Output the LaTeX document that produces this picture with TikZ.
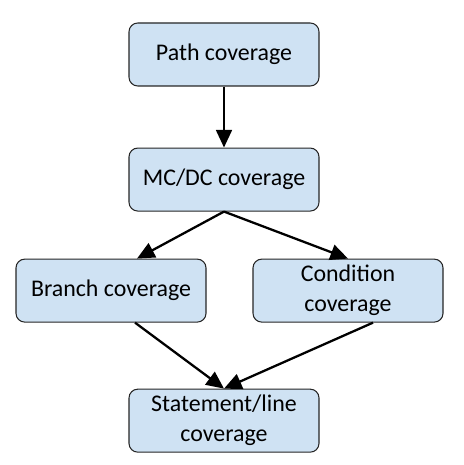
\documentclass[tikz,border=0pt]{standalone}
\usepackage{fontspec}
\setmainfont{Carlito}
\usepackage{xcolor}
\usetikzlibrary{arrows.meta,positioning,calc}

\definecolor{boxblue}{HTML}{CFE2F3}

\begin{document}
\begin{tikzpicture}[
  box/.style={draw=black!85, line width=0.6pt, rounded corners=5pt, fill=boxblue,
    minimum width=3.8cm, minimum height=1.26cm, inner sep=2pt,
    font=\fontsize{13.6}{17}\selectfont, align=center},
  arr/.style={-{Triangle[length=10pt,width=9pt]}, line width=1.3pt},
  node distance=1.22cm,
]
\useasboundingbox (0,0) rectangle (9.26,-9.30);

% Top chain
\node[box] (path) at (4.48,-1.09) {Path coverage};
\node[box, below=of path] (mcdc) {MC/DC coverage};

% Middle row
\node[box, below=0.94cm of mcdc, xshift=-2.26cm] (branch) {Branch coverage};
\node[box, below=0.94cm of mcdc, xshift=2.48cm] (cond) {Condition\\coverage};

% Bottom
\node[box, anchor=north] (stmt) at ([yshift=-1.32cm]branch.south -| mcdc)
  {Statement/line\\coverage};

% Arrows
\draw[arr] (path) -- (mcdc);
\draw[arr] (mcdc.south) -- ([xshift=0.52cm]branch.north);
\draw[arr] (mcdc.south) -- (cond.north);
\draw[arr] ([xshift=0.48cm]branch.south) -- (stmt.north);
\draw[arr] ([xshift=0.5cm]cond.south) -- (stmt.north);

\end{tikzpicture}
\end{document}
